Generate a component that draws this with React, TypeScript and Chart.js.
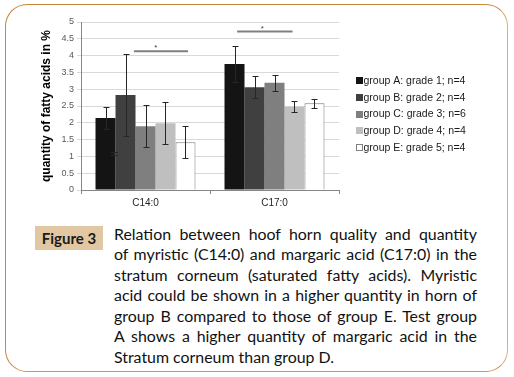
import React, { useEffect, useRef } from 'react';
import { Chart, registerables } from 'chart.js';

Chart.register(...registerables);

// ---- data ----
const categories = ['C14:0', 'C17:0'];
const seriesLabels = [
  'group A: grade 1; n=4',
  'group B: grade 2; n=4',
  'group C: grade 3; n=6',
  'group D: grade 4; n=4',
  'group E: grade 5; n=4',
];
const groupA = [2.14, 3.75];
const groupB = [2.83, 3.06];
const groupC = [1.9, 3.19];
const groupD = [1.99, 2.48];
const groupE = [1.42, 2.58];
const errA = [0.33, 0.55];
const errB = [1.21, 0.32];
const errC = [0.63, 0.24];
const errD = [0.63, 0.16];
const errE = [0.47, 0.14];
const seriesColors = ['#141414', '#404040', '#7f7f7f', '#bfbfbf', '#ffffff'];
const yTickValues = [0, 0.5, 1, 1.5, 2, 2.5, 3, 3.5, 4, 4.5, 5];
const yTickLabels = ['0', '0.5', '1', '1.5', '2', '2.5', '3', '3.5', '4', '4.5', '5'];
// stray small error mark near group A / C14:0
const strayLow = 1.04;
const strayHigh = 1.13;
// significance brackets (category-axis positions) and levels
const sigStart = [-0.09, 0.71];
const sigEnd = [0.33, 1.14];
const sigLevel = [4.13, 4.72];
const sigStarPos = [0.08, 0.905];
const sigStarLevel = [4.3, 4.86];
const sigLabel = ['*', '*'];

const captionLines = [
  'Relation between hoof horn quality and quantity',
  'of myristic (C14:0) and margaric acid (C17:0) in the',
  'stratum corneum (saturated fatty acids). Myristic',
  'acid could be shown in a higher quantity in horn of',
  'group B compared to those of group E. Test group',
  'A shows a higher quantity of margaric acid in the',
  'Stratum corneum than group D.',
];

const allSeries = [groupA, groupB, groupC, groupD, groupE];
const allErrors = [errA, errB, errC, errD, errE];

const FONT = "'Liberation Sans', Arial, sans-serif";

const errorBarPlugin = {
  id: 'errorBars',
  afterDatasetsDraw(chart: any) {
    const ctx = chart.ctx;
    const y = chart.scales.y;
    ctx.save();
    ctx.strokeStyle = '#262626';
    ctx.lineWidth = 1;
    chart.data.datasets.forEach((ds: any, i: number) => {
      const meta = chart.getDatasetMeta(i);
      meta.data.forEach((el: any, j: number) => {
        const v = ds.data[j];
        const e = allErrors[i][j];
        const x = Math.round(el.x) + 0.5;
        const yh = Math.round(y.getPixelForValue(v + e)) + 0.5;
        const yl = Math.round(y.getPixelForValue(v - e)) + 0.5;
        ctx.beginPath();
        ctx.moveTo(x, yh);
        ctx.lineTo(x, yl);
        ctx.moveTo(x - 3, yh);
        ctx.lineTo(x + 3, yh);
        ctx.moveTo(x - 3, yl);
        ctx.lineTo(x + 3, yl);
        ctx.stroke();
      });
    });
    // stray mark
    const el0 = chart.getDatasetMeta(0).data[0];
    if (el0) {
      const x = Math.round(el0.x + el0.width / 2) - 1.5;
      const yh = Math.round(y.getPixelForValue(strayHigh)) + 0.5;
      const yl = Math.round(y.getPixelForValue(strayLow)) + 0.5;
      ctx.lineWidth = 1.2;
      ctx.beginPath();
      ctx.moveTo(x, yh);
      ctx.lineTo(x, yl);
      ctx.moveTo(x - 3.5, yh);
      ctx.lineTo(x + 3.5, yh);
      ctx.moveTo(x - 3.5, yl);
      ctx.lineTo(x + 3.5, yl);
      ctx.stroke();
    }
    ctx.restore();
  },
};

const sigPlugin = {
  id: 'sigBrackets',
  afterDatasetsDraw(chart: any) {
    const ctx = chart.ctx;
    const xs = chart.scales.x;
    const ys = chart.scales.y;
    ctx.save();
    for (let k = 0; k < sigStart.length; k++) {
      const x1 = xs.getPixelForValue(sigStart[k]);
      const x2 = xs.getPixelForValue(sigEnd[k]);
      const yy = ys.getPixelForValue(sigLevel[k]);
      ctx.strokeStyle = '#808080';
      ctx.lineWidth = 2;
      ctx.beginPath();
      ctx.moveTo(x1, yy);
      ctx.lineTo(x2, yy);
      ctx.stroke();
      ctx.fillStyle = '#404040';
      ctx.font = `8px ${FONT}`;
      ctx.textAlign = 'center';
      ctx.textBaseline = 'middle';
      ctx.fillText(sigLabel[k], xs.getPixelForValue(sigStarPos[k]), ys.getPixelForValue(sigStarLevel[k]) + 2);
    }
    ctx.restore();
  },
};

const legendPlugin = {
  id: 'customLegend',
  afterDraw(chart: any) {
    const ctx = chart.ctx;
    const area = chart.chartArea;
    const step = 16.67;
    const n = chart.data.datasets.length;
    const centerY = (area.top + area.bottom) / 2 + 8.3;
    const startY = centerY - ((n - 1) * step) / 2;
    const x0 = area.right + 17;
    ctx.save();
    ctx.font = `10.5px ${FONT}`;
    ctx.textAlign = 'left';
    ctx.textBaseline = 'middle';
    chart.data.datasets.forEach((ds: any, i: number) => {
      const cy = startY + i * step;
      ctx.fillStyle = ds.backgroundColor;
      ctx.fillRect(x0, Math.round(cy - 3.5), 7, 7);
      if (ds.backgroundColor === '#ffffff') {
        ctx.strokeStyle = '#808080';
        ctx.lineWidth = 1;
        ctx.strokeRect(x0 + 0.5, Math.round(cy - 3.5) + 0.5, 6, 6);
      }
      ctx.fillStyle = '#1a1a1a';
      ctx.fillText(ds.label, x0 + 7.5, cy);
    });
    ctx.restore();
  },
};

function BarChart() {
  const ref = useRef<HTMLCanvasElement | null>(null);
  useEffect(() => {
    if (!ref.current) return;
    const chart = new Chart(ref.current, {
      type: 'bar',
      data: {
        labels: categories,
        datasets: allSeries.map((s, i) => ({
          label: seriesLabels[i],
          data: s,
          backgroundColor: seriesColors[i],
          borderColor: i === 4 ? '#7a7a7a' : seriesColors[i],
          borderWidth: i === 4 ? 1 : 0,
          categoryPercentage: 0.775,
          barPercentage: 1,
        })),
      },
      options: {
        animation: false,
        responsive: false,
        maintainAspectRatio: false,
        layout: { padding: { left: 20, top: 22, right: 175, bottom: 5 } },
        plugins: { legend: { display: false }, tooltip: { enabled: false } },
        scales: {
          x: {
            offset: true,
            grid: {
              offset: true,
              drawOnChartArea: false,
              drawTicks: true,
              tickLength: 4,
              color: '#868686',
            },
            border: { display: true, color: '#868686' },
            ticks: { font: { family: FONT, size: 10 }, color: '#262626', padding: 3 },
            afterFit: (s: any) => {
              s.height = 20;
            },
          },
          y: {
            min: 0,
            max: 5,
            afterBuildTicks: (s: any) => {
              s.ticks = yTickValues.map((v) => ({ value: v }));
            },
            grid: { color: '#d9d9d9', tickLength: 4, drawTicks: true },
            border: { display: true, color: '#868686' },
            ticks: {
              font: { family: FONT, size: 9 },
              color: '#595959',
              padding: 3,
              callback: (v: any) => {
                const idx = yTickValues.indexOf(Number(v));
                return idx >= 0 ? yTickLabels[idx] : '';
              },
            },
            title: {
              display: true,
              text: 'quantity of fatty acids in %',
              font: { family: FONT, size: 12, weight: 'bold' },
              color: '#000000',
              padding: { top: 19.5, bottom: 0 },
            },
            afterFit: (s: any) => {
              s.width = 61;
            },
          },
        },
      },
      plugins: [errorBarPlugin, sigPlugin, legendPlugin],
    } as any);
    return () => chart.destroy();
  }, []);
  return (
    <canvas
      ref={ref}
      width={514}
      height={215}
      style={{ position: 'absolute', left: 0, top: 0, width: 514, height: 215 }}
    />
  );
}

export default function App() {
  useEffect(() => {
    document.body.style.margin = '0';
  }, []);
  return (
    <div
      style={{
        position: 'absolute',
        left: 0,
        top: 0,
        width: 514,
        height: 377,
        background: '#ffffff',
        overflow: 'hidden',
      }}
    >
      <div
        style={{
          position: 'absolute',
          left: 5,
          top: 4,
          width: 503,
          height: 368,
          boxSizing: 'border-box',
          border: '1.5px solid',
          borderColor: '#c6873f #d5b083 #c9975a #c6873f',
          borderRadius: 22,
        }}
      />
      <BarChart />
      <div
        style={{
          position: 'absolute',
          left: 35,
          top: 226,
          width: 68,
          height: 24,
          background: '#e2c7a3',
          color: '#1a1a1a',
          fontFamily: 'Lato, sans-serif',
          fontWeight: 700,
          fontSize: 15,
          lineHeight: '24px',
          textAlign: 'center',
        }}
      >
        Figure 3
      </div>
      <div
        style={{
          position: 'absolute',
          left: 114,
          top: 223.5,
          width: 363,
          fontFamily: 'Lato, sans-serif',
          fontSize: 15.9,
          color: '#111111',
        }}
      >
        {captionLines.map((line, i) => (
          <div
            key={i}
            style={{
              height: 20.5,
              lineHeight: '20.5px',
              whiteSpace: 'nowrap',
              textAlign: i === captionLines.length - 1 ? 'left' : 'justify',
              textAlignLast: i === captionLines.length - 1 ? 'left' : 'justify',
            }}
          >
            {line}
          </div>
        ))}
      </div>
    </div>
  );
}
